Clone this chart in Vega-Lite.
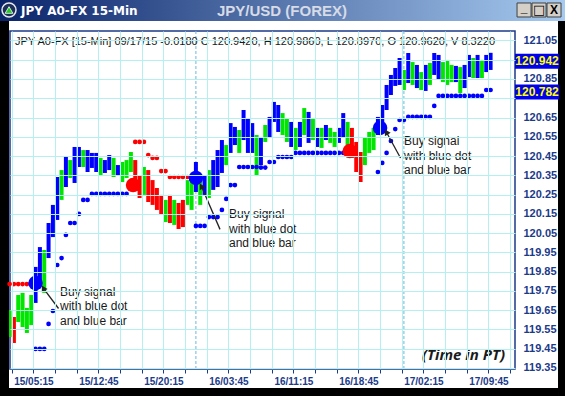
{
  "$schema": "https://vega.github.io/schema/vega-lite/v6.json",
  "width": 505,
  "height": 338,
  "autosize": {"type": "none"},
  "padding": {"left": 10, "top": 31, "right": 50, "bottom": 27},
  "background": "white",
  "config": {
    "view": {"stroke": "#1b3a8a", "strokeWidth": 1.5, "fill": "transparent"},
    "font": "Liberation Sans"
  },
  "resolve": {"axis": {"x": "independent", "y": "independent"}},
  "datasets": {
    "bars": [
      {"t":2.5,"h":119.650,"l":119.510,"s":"neutral"},
      {"t":3.0,"h":119.614,"l":119.479,"s":"down"},
      {"t":3.5,"h":119.728,"l":119.588,"s":"neutral"},
      {"t":4.0,"h":119.739,"l":119.562,"s":"neutral"},
      {"t":4.5,"h":119.661,"l":119.531,"s":"neutral"},
      {"t":5.0,"h":119.728,"l":119.572,"s":"neutral"},
      {"t":5.5,"h":119.874,"l":119.687,"s":"up"},
      {"t":6.0,"h":119.977,"l":119.790,"s":"up"},
      {"t":6.5,"h":119.962,"l":119.739,"s":"neutral"},
      {"t":7.0,"h":120.102,"l":119.920,"s":"up"},
      {"t":7.5,"h":120.196,"l":120.029,"s":"up"},
      {"t":8.0,"h":120.341,"l":120.118,"s":"up"},
      {"t":8.5,"h":120.377,"l":120.222,"s":"neutral"},
      {"t":9.0,"h":120.445,"l":120.289,"s":"up"},
      {"t":9.5,"h":120.429,"l":120.336,"s":"neutral"},
      {"t":10.0,"h":120.497,"l":120.310,"s":"up"},
      {"t":10.5,"h":120.497,"l":120.393,"s":"up"},
      {"t":11.0,"h":120.481,"l":120.393,"s":"neutral"},
      {"t":11.5,"h":120.481,"l":120.367,"s":"up"},
      {"t":12.0,"h":120.466,"l":120.388,"s":"up"},
      {"t":12.5,"h":120.466,"l":120.367,"s":"up"},
      {"t":13.0,"h":120.440,"l":120.351,"s":"neutral"},
      {"t":13.5,"h":120.429,"l":120.362,"s":"up"},
      {"t":14.0,"h":120.455,"l":120.377,"s":"up"},
      {"t":14.5,"h":120.440,"l":120.341,"s":"neutral"},
      {"t":15.0,"h":120.403,"l":120.351,"s":"up"},
      {"t":15.5,"h":120.419,"l":120.315,"s":"neutral"},
      {"t":16.0,"h":120.429,"l":120.336,"s":"neutral"},
      {"t":16.5,"h":120.471,"l":120.367,"s":"neutral"},
      {"t":17.0,"h":120.429,"l":120.274,"s":"down"},
      {"t":17.5,"h":120.351,"l":120.232,"s":"down"},
      {"t":18.0,"h":120.393,"l":120.248,"s":"neutral"},
      {"t":18.5,"h":120.377,"l":120.211,"s":"down"},
      {"t":19.0,"h":120.325,"l":120.196,"s":"down"},
      {"t":19.5,"h":120.284,"l":120.170,"s":"down"},
      {"t":20.0,"h":120.248,"l":120.144,"s":"down"},
      {"t":20.5,"h":120.222,"l":120.107,"s":"neutral"},
      {"t":21.0,"h":120.248,"l":120.102,"s":"down"},
      {"t":21.5,"h":120.222,"l":120.092,"s":"neutral"},
      {"t":22.0,"h":120.206,"l":120.071,"s":"down"},
      {"t":22.5,"h":120.222,"l":120.081,"s":"down"},
      {"t":23.0,"h":120.325,"l":120.196,"s":"neutral"},
      {"t":23.5,"h":120.315,"l":120.170,"s":"neutral"},
      {"t":24.0,"h":120.419,"l":120.263,"s":"up"},
      {"t":24.5,"h":120.336,"l":120.196,"s":"neutral"},
      {"t":25.0,"h":120.351,"l":120.248,"s":"up"},
      {"t":25.5,"h":120.377,"l":120.232,"s":"neutral"},
      {"t":26.0,"h":120.429,"l":120.274,"s":"up"},
      {"t":26.5,"h":120.481,"l":120.289,"s":"up"},
      {"t":27.0,"h":120.533,"l":120.362,"s":"up"},
      {"t":27.5,"h":120.507,"l":120.403,"s":"neutral"},
      {"t":28.0,"h":120.621,"l":120.466,"s":"up"},
      {"t":28.5,"h":120.601,"l":120.507,"s":"up"},
      {"t":29.0,"h":120.585,"l":120.466,"s":"neutral"},
      {"t":29.5,"h":120.689,"l":120.533,"s":"up"},
      {"t":30.0,"h":120.647,"l":120.466,"s":"up"},
      {"t":30.5,"h":120.621,"l":120.466,"s":"up"},
      {"t":31.0,"h":120.559,"l":120.351,"s":"neutral"},
      {"t":31.5,"h":120.549,"l":120.403,"s":"up"},
      {"t":32.0,"h":120.611,"l":120.523,"s":"neutral"},
      {"t":32.5,"h":120.653,"l":120.544,"s":"up"},
      {"t":33.0,"h":120.731,"l":120.627,"s":"up"},
      {"t":33.5,"h":120.715,"l":120.575,"s":"up"},
      {"t":34.0,"h":120.673,"l":120.559,"s":"neutral"},
      {"t":34.5,"h":120.647,"l":120.523,"s":"neutral"},
      {"t":35.0,"h":120.627,"l":120.497,"s":"up"},
      {"t":35.5,"h":120.596,"l":120.481,"s":"neutral"},
      {"t":36.0,"h":120.627,"l":120.497,"s":"up"},
      {"t":36.5,"h":120.699,"l":120.559,"s":"neutral"},
      {"t":37.0,"h":120.679,"l":120.518,"s":"up"},
      {"t":37.5,"h":120.647,"l":120.533,"s":"neutral"},
      {"t":38.0,"h":120.596,"l":120.497,"s":"up"},
      {"t":38.5,"h":120.596,"l":120.492,"s":"neutral"},
      {"t":39.0,"h":120.611,"l":120.533,"s":"up"},
      {"t":39.5,"h":120.596,"l":120.518,"s":"neutral"},
      {"t":40.0,"h":120.575,"l":120.497,"s":"neutral"},
      {"t":40.5,"h":120.596,"l":120.518,"s":"up"},
      {"t":41.0,"h":120.673,"l":120.544,"s":"up"},
      {"t":41.5,"h":120.627,"l":120.507,"s":"neutral"},
      {"t":42.0,"h":120.596,"l":120.440,"s":"down"},
      {"t":42.5,"h":120.523,"l":120.367,"s":"down"},
      {"t":43.0,"h":120.471,"l":120.315,"s":"down"},
      {"t":43.5,"h":120.544,"l":120.403,"s":"neutral"},
      {"t":44.0,"h":120.575,"l":120.466,"s":"neutral"},
      {"t":44.5,"h":120.596,"l":120.481,"s":"neutral"},
      {"t":45.0,"h":120.653,"l":120.559,"s":"up"},
      {"t":45.5,"h":120.715,"l":120.601,"s":"up"},
      {"t":46.0,"h":120.819,"l":120.689,"s":"up"},
      {"t":46.5,"h":120.871,"l":120.767,"s":"up"},
      {"t":47.0,"h":120.907,"l":120.814,"s":"up"},
      {"t":47.5,"h":120.959,"l":120.819,"s":"up"},
      {"t":48.0,"h":120.897,"l":120.793,"s":"neutral"},
      {"t":48.5,"h":120.985,"l":120.829,"s":"up"},
      {"t":49.0,"h":120.938,"l":120.819,"s":"neutral"},
      {"t":49.5,"h":120.923,"l":120.803,"s":"up"},
      {"t":50.0,"h":120.886,"l":120.793,"s":"neutral"},
      {"t":50.5,"h":120.923,"l":120.788,"s":"up"},
      {"t":51.0,"h":120.933,"l":120.819,"s":"neutral"},
      {"t":51.5,"h":120.985,"l":120.871,"s":"up"},
      {"t":52.0,"h":120.975,"l":120.845,"s":"up"},
      {"t":52.5,"h":120.938,"l":120.834,"s":"neutral"},
      {"t":53.0,"h":120.944,"l":120.819,"s":"neutral"},
      {"t":53.5,"h":120.923,"l":120.834,"s":"neutral"},
      {"t":54.0,"h":120.918,"l":120.834,"s":"up"},
      {"t":54.5,"h":120.912,"l":120.777,"s":"neutral"},
      {"t":55.0,"h":120.923,"l":120.803,"s":"up"},
      {"t":55.5,"h":120.975,"l":120.860,"s":"up"},
      {"t":56.0,"h":120.959,"l":120.855,"s":"neutral"},
      {"t":56.5,"h":120.975,"l":120.855,"s":"up"},
      {"t":57.0,"h":120.949,"l":120.855,"s":"neutral"},
      {"t":57.5,"h":120.975,"l":120.886,"s":"up"},
      {"t":58.0,"h":120.986,"l":120.897,"s":"up"}
    ],
    "stops": [
      {"t":2.5,"v":119.785,"s":"down"},{"t":3.0,"v":119.785,"s":"down"},{"t":3.5,"v":119.785,"s":"down"},
      {"t":4.0,"v":119.785,"s":"down"},{"t":4.5,"v":119.785,"s":"down"},{"t":5.0,"v":119.785,"s":"down"},
      {"t":5.5,"v":119.448,"s":"up"},{"t":6.0,"v":119.448,"s":"up"},{"t":6.5,"v":119.448,"s":"up"},
      {"t":7.0,"v":119.578,"s":"up"},{"t":7.5,"v":119.645,"s":"up"},{"t":8.0,"v":119.884,"s":"up"},
      {"t":8.5,"v":119.920,"s":"up"},{"t":9.0,"v":120.040,"s":"up"},{"t":9.5,"v":120.102,"s":"up"},
      {"t":10.0,"v":120.102,"s":"up"},{"t":10.5,"v":120.149,"s":"up"},{"t":11.0,"v":120.222,"s":"up"},
      {"t":11.5,"v":120.222,"s":"up"},{"t":12.0,"v":120.253,"s":"up"},{"t":12.5,"v":120.253,"s":"up"},
      {"t":13.0,"v":120.253,"s":"up"},{"t":13.5,"v":120.253,"s":"up"},{"t":14.0,"v":120.253,"s":"up"},
      {"t":14.5,"v":120.253,"s":"up"},{"t":15.0,"v":120.253,"s":"up"},{"t":15.5,"v":120.253,"s":"up"},
      {"t":16.0,"v":120.253,"s":"up"},
      {"t":17.0,"v":120.523,"s":"down"},{"t":17.5,"v":120.523,"s":"down"},{"t":18.0,"v":120.523,"s":"down"},
      {"t":18.5,"v":120.455,"s":"down"},{"t":19.0,"v":120.440,"s":"down"},{"t":19.5,"v":120.440,"s":"down"},
      {"t":20.0,"v":120.372,"s":"down"},{"t":20.5,"v":120.372,"s":"down"},{"t":21.0,"v":120.341,"s":"down"},
      {"t":21.5,"v":120.341,"s":"down"},{"t":22.0,"v":120.341,"s":"down"},{"t":22.5,"v":120.341,"s":"down"},
      {"t":23.0,"v":120.341,"s":"down"},
      {"t":24.0,"v":120.087,"s":"up"},{"t":24.5,"v":120.087,"s":"up"},{"t":25.0,"v":120.087,"s":"up"},
      {"t":25.5,"v":120.133,"s":"up"},{"t":26.0,"v":120.133,"s":"up"},{"t":26.5,"v":120.133,"s":"up"},
      {"t":27.0,"v":120.170,"s":"up"},{"t":27.5,"v":120.227,"s":"up"},{"t":28.0,"v":120.299,"s":"up"},
      {"t":28.5,"v":120.299,"s":"up"},{"t":29.0,"v":120.393,"s":"up"},{"t":29.5,"v":120.393,"s":"up"},
      {"t":30.0,"v":120.393,"s":"up"},{"t":30.5,"v":120.393,"s":"up"},{"t":31.0,"v":120.393,"s":"up"},
      {"t":31.5,"v":120.390,"s":"up"},{"t":32.0,"v":120.390,"s":"up"},{"t":32.5,"v":120.419,"s":"up"},
      {"t":33.0,"v":120.419,"s":"up"},{"t":33.5,"v":120.445,"s":"up"},{"t":34.0,"v":120.445,"s":"up"},
      {"t":34.5,"v":120.445,"s":"up"},{"t":35.0,"v":120.445,"s":"up"},{"t":35.5,"v":120.466,"s":"up"},
      {"t":36.0,"v":120.466,"s":"up"},{"t":36.5,"v":120.466,"s":"up"},{"t":37.0,"v":120.466,"s":"up"},
      {"t":37.5,"v":120.466,"s":"up"},{"t":38.0,"v":120.466,"s":"up"},{"t":38.5,"v":120.466,"s":"up"},
      {"t":39.0,"v":120.466,"s":"up"},{"t":39.5,"v":120.466,"s":"up"},{"t":40.0,"v":120.466,"s":"up"},
      {"t":40.5,"v":120.466,"s":"up"},{"t":41.0,"v":120.466,"s":"up"},
      {"t":45.0,"v":120.367,"s":"up"},{"t":45.5,"v":120.414,"s":"up"},{"t":46.0,"v":120.466,"s":"up"},
      {"t":46.5,"v":120.528,"s":"up"},{"t":47.0,"v":120.590,"s":"up"},{"t":47.5,"v":120.637,"s":"up"},
      {"t":48.0,"v":120.637,"s":"up"},{"t":48.5,"v":120.653,"s":"up"},{"t":49.0,"v":120.653,"s":"up"},
      {"t":49.5,"v":120.653,"s":"up"},{"t":50.0,"v":120.653,"s":"up"},{"t":50.5,"v":120.653,"s":"up"},
      {"t":51.0,"v":120.653,"s":"up"},{"t":51.5,"v":120.710,"s":"up"},{"t":52.0,"v":120.762,"s":"up"},
      {"t":52.5,"v":120.762,"s":"up"},{"t":53.0,"v":120.762,"s":"up"},{"t":53.5,"v":120.762,"s":"up"},
      {"t":54.0,"v":120.762,"s":"up"},{"t":54.5,"v":120.762,"s":"up"},{"t":55.0,"v":120.762,"s":"up"},
      {"t":55.5,"v":120.762,"s":"up"},{"t":56.0,"v":120.762,"s":"up"},{"t":56.5,"v":120.762,"s":"up"},
      {"t":57.0,"v":120.762,"s":"up"},{"t":57.5,"v":120.793,"s":"up"},{"t":58.0,"v":120.793,"s":"up"}
    ],
    "signals": [
      {"t":5.5,"v":119.790,"s":"up"},
      {"t":16.75,"v":120.299,"s":"down"},
      {"t":24.0,"v":120.336,"s":"up"},
      {"t":41.75,"v":120.476,"s":"down"},
      {"t":45.25,"v":120.596,"s":"up"}
    ],
    "notes": [
      {"t":8.32,"v":119.723,"tail_t":8.15,"tail_v":119.658,"tip_t":6.39,"tip_v":119.764,"text":"Buy signal\nwith blue dot\nand blue bar"},
      {"t":27.82,"v":120.1265,"tail_t":26.78,"tail_v":120.069,"tip_t":24.62,"tip_v":120.294,"text":"Buy signal\nwith blue dot\nand blue bar"},
      {"t":48.01,"v":120.5057,"tail_t":47.61,"tail_v":120.440,"tip_t":45.97,"tip_v":120.575,"text":"Buy signal\nwith blue dot\nand blue bar"}
    ],
    "lastvals": [
      {"v":120.942,"label":"120.942"},
      {"v":120.782,"label":"120.782"}
    ],
    "days": [{"t":24},{"t":48}]
  },
  "layer": [
    {
      "data": {"name": "days"},
      "mark": {"type": "rule", "color": "#6fb7d8", "strokeWidth": 1, "strokeDash": [3, 2]},
      "encoding": {"x": {"field": "t", "type": "quantitative", "axis": null}}
    },
    {
      "data": {"name": "bars"},
      "mark": {"type": "rule", "strokeWidth": 4, "strokeCap": "butt"},
      "encoding": {
        "x": {
          "field": "t", "type": "quantitative",
          "scale": {"domain": [2.55, 60.817], "nice": false, "zero": false},
          "axis": {
            "title": null,
            "orient": "bottom",
            "values": [2.75, 5.25, 7.75, 10.25, 12.75, 15.25, 17.75, 20.25, 22.75, 25.25, 27.75, 30.25, 32.75, 35.25, 37.75, 40.25, 42.75, 45.25, 47.75, 50.25, 52.75, 55.25, 57.75, 60.25],
            "labelExpr": "abs((datum.value - 5.25) % 7.5) < 0.01 ? (15 + floor(datum.value / 24)) + '/' + pad('' + floor(datum.value % 24), 2, '0', 'left') + ':' + pad('' + round((datum.value % 1) * 60), 2, '0', 'left') : ''",
            "domain": false,
            "tickSize": 4,
            "tickColor": "#1b3a8a",
            "tickWidth": 1,
            "labelFont": "Liberation Sans",
            "labelFontSize": 10,
            "labelFontWeight": "bold",
            "labelColor": "#1b3a8a",
            "labelPadding": 3,
            "labelOverlap": false,
            "labelFlush": false,
            "grid": true,
            "gridColor": "#b4f0f0",
            "gridOpacity": 1,
            "gridWidth": 1,
            "zindex": 1
          }
        },
        "y": {
          "field": "l", "type": "quantitative",
          "scale": {"domain": [119.3438, 121.0993], "nice": false, "zero": false},
          "axis": {
            "title": null,
            "orient": "right",
            "values": [119.35, 119.45, 119.55, 119.65, 119.75, 119.85, 119.95, 120.05, 120.15, 120.25, 120.35, 120.45, 120.55, 120.65, 120.75, 120.85, 120.95, 121.05],
            "labelExpr": "(abs(datum.value - 120.95) < 0.001 || abs(datum.value - 120.75) < 0.001) ? '' : format(datum.value, '.2f')",
            "domain": false,
            "ticks": false,
            "labelPadding": 8,
            "labelFont": "Liberation Sans",
            "labelFontSize": 11,
            "labelFontWeight": "bold",
            "labelColor": "#1b3a8a",
            "labelOverlap": false,
            "labelFlush": false,
            "grid": true,
            "gridColor": "#b4f0f0",
            "gridOpacity": 1,
            "gridWidth": 1,
            "zindex": 1
          }
        },
        "y2": {"field": "h"},
        "color": {"field": "s", "type": "nominal", "scale": {"domain": ["up", "neutral", "down"], "range": ["#0000ff", "#00e600", "#ff0000"]}, "legend": null}
      }
    },
    {
      "data": {"values": [{}]},
      "mark": {"type": "rect", "fill": {"gradient": "linear", "x1": 0, "y1": 0, "x2": 1, "y2": 0, "stops": [{"offset": 0, "color": "#0a246a"}, {"offset": 1, "color": "#a6caf0"}]}},
      "encoding": {"x": {"datum": 1.396, "axis": null}, "x2": {"datum": 66.59}, "y": {"datum": 121.2603, "axis": null}, "y2": {"datum": 121.1512}}
    },
    {
      "data": {"values": [{}]},
      "mark": {"type": "rect", "fill": "black"},
      "encoding": {"x": {"datum": 1.396, "axis": null}, "x2": {"datum": 2.435}, "y": {"datum": 121.1512, "axis": null}, "y2": {"datum": 119.2036}}
    },
    {
      "data": {"values": [{}]},
      "mark": {"type": "rect", "fill": "black"},
      "encoding": {"x": {"datum": 65.78, "axis": null}, "x2": {"datum": 66.59}, "y": {"datum": 121.1512, "axis": null}, "y2": {"datum": 119.2036}}
    },
    {
      "data": {"values": [{}]},
      "mark": {"type": "rect", "fill": "black"},
      "encoding": {"x": {"datum": 2.435, "axis": null}, "x2": {"datum": 65.78}, "y": {"datum": 119.2451, "axis": null}, "y2": {"datum": 119.2036}}
    },
    {
      "data": {"values": [{"label": "JPY A0-FX 15-Min"}]},
      "mark": {"type": "text", "align": "left", "baseline": "middle", "color": "white", "fontWeight": "bold", "fontSize": 12, "font": "DejaVu Sans"},
      "encoding": {"x": {"datum": 3.819, "axis": null}, "y": {"datum": 121.2032, "axis": null}, "text": {"field": "label"}}
    },
    {
      "data": {"values": [{"label": "JPY/USD (FOREX)"}]},
      "mark": {"type": "text", "align": "center", "baseline": "middle", "color": "#d6dbe6", "fontWeight": "bold", "fontSize": 15, "font": "Liberation Sans"},
      "encoding": {"x": {"datum": 33.93, "axis": null}, "y": {"datum": 121.2032, "axis": null}, "text": {"field": "label"}}
    },
    {
      "data": {"values": [{}]},
      "mark": {"type": "point", "shape": "circle", "filled": true, "size": 196, "fill": "#1c2f5a", "stroke": "#e8e8e8", "strokeWidth": 1.5, "opacity": 1},
      "encoding": {"x": {"datum": 2.435, "axis": null}, "y": {"datum": 121.2084, "axis": null}}
    },
    {
      "data": {"values": [{}]},
      "mark": {"type": "point", "shape": "triangle-up", "filled": true, "size": 60, "fill": "#22cc22", "stroke": "white", "strokeWidth": 0.8, "opacity": 1},
      "encoding": {"x": {"datum": 2.435, "axis": null}, "y": {"datum": 121.2084, "axis": null}}
    },
    {
      "data": {"values": [{}]},
      "mark": {"type": "point", "shape": "square", "filled": true, "size": 196, "fill": "#d4d0c8", "stroke": "#404040", "strokeWidth": 1, "opacity": 1},
      "encoding": {"x": {"datum": 61.86, "axis": null}, "y": {"datum": 121.2084, "axis": null}}
    },
    {
      "data": {"values": [{}]},
      "mark": {"type": "point", "shape": "square", "filled": true, "size": 196, "fill": "#d4d0c8", "stroke": "#404040", "strokeWidth": 1, "opacity": 1},
      "encoding": {"x": {"datum": 63.59, "axis": null}, "y": {"datum": 121.2084, "axis": null}}
    },
    {
      "data": {"values": [{}]},
      "mark": {"type": "point", "shape": "square", "filled": true, "size": 196, "fill": "#d4d0c8", "stroke": "#404040", "strokeWidth": 1, "opacity": 1},
      "encoding": {"x": {"datum": 65.32, "axis": null}, "y": {"datum": 121.2084, "axis": null}}
    },
    {
      "data": {"values": [{"g": "_"}]},
      "mark": {"type": "text", "fontWeight": "bold", "fontSize": 12, "color": "black", "baseline": "middle", "dy": -2},
      "encoding": {"x": {"datum": 61.86, "axis": null}, "y": {"datum": 121.2084, "axis": null}, "text": {"field": "g"}}
    },
    {
      "data": {"values": [{"g": "□"}]},
      "mark": {"type": "text", "fontWeight": "bold", "fontSize": 13, "font": "DejaVu Sans", "color": "black", "baseline": "middle"},
      "encoding": {"x": {"datum": 63.59, "axis": null}, "y": {"datum": 121.2084, "axis": null}, "text": {"field": "g"}}
    },
    {
      "data": {"values": [{"g": "X"}]},
      "mark": {"type": "text", "fontWeight": "bold", "fontSize": 12, "color": "black", "baseline": "middle"},
      "encoding": {"x": {"datum": 65.32, "axis": null}, "y": {"datum": 121.2084, "axis": null}, "text": {"field": "g"}}
    },
    {
      "data": {"name": "stops"},
      "mark": {"type": "point", "shape": "circle", "filled": true, "size": 22, "opacity": 1},
      "encoding": {
        "x": {"field": "t", "type": "quantitative", "axis": null},
        "y": {"field": "v", "type": "quantitative", "axis": null},
        "color": {"field": "s", "type": "nominal", "scale": {"domain": ["up", "neutral", "down"], "range": ["#0000ff", "#00e600", "#ff0000"]}, "legend": null}
      }
    },
    {
      "data": {"name": "signals"},
      "mark": {"type": "point", "shape": "circle", "filled": true, "size": 210, "opacity": 1},
      "encoding": {
        "x": {"field": "t", "type": "quantitative", "axis": null},
        "y": {"field": "v", "type": "quantitative", "axis": null},
        "color": {"field": "s", "type": "nominal", "scale": {"domain": ["up", "neutral", "down"], "range": ["#0000ff", "#00e600", "#ff0000"]}, "legend": null}
      }
    },
    {
      "data": {"name": "notes"},
      "mark": {"type": "rule", "color": "#222222", "strokeWidth": 1.3},
      "encoding": {
        "x": {"field": "tail_t", "type": "quantitative", "axis": null},
        "y": {"field": "tail_v", "type": "quantitative", "axis": null},
        "x2": {"field": "tip_t"},
        "y2": {"field": "tip_v"}
      }
    },
    {
      "data": {"name": "notes"},
      "mark": {"type": "point", "shape": "triangle-up", "filled": true, "size": 45, "angle": -30, "color": "#222222", "opacity": 1},
      "encoding": {
        "x": {"field": "tip_t", "type": "quantitative", "axis": null},
        "y": {"field": "tip_v", "type": "quantitative", "axis": null}
      }
    },
    {
      "data": {"name": "notes"},
      "mark": {"type": "text", "align": "left", "baseline": "alphabetic", "lineBreak": "\n", "lineHeight": 14.5, "fontSize": 12, "font": "Liberation Sans", "color": "#1a1a1a"},
      "encoding": {
        "x": {"field": "t", "type": "quantitative", "axis": null},
        "y": {"field": "v", "type": "quantitative", "axis": null},
        "text": {"field": "text"}
      }
    },
    {
      "data": {"values": [{"label": "JPY A0-FX [15-Min] 09/17/15  -0.0180 C 120.9420, H 120.9860, L 120.8970, O 120.9620, V 8.3220"}]},
      "mark": {"type": "text", "align": "left", "baseline": "alphabetic", "fontSize": 11, "font": "Liberation Sans", "color": "#1a1a1a", "clip": true},
      "encoding": {"x": {"datum": 3.127, "axis": null}, "y": {"datum": 121.025, "axis": null}, "text": {"field": "label"}}
    },
    {
      "data": {"values": [{"label": "(Time in PT)"}]},
      "mark": {"type": "text", "align": "right", "baseline": "alphabetic", "fontSize": 15, "font": "Open Sans", "fontWeight": "bold", "fontStyle": "italic", "color": "#1a1a1a"},
      "encoding": {"x": {"datum": 59.66, "axis": null}, "y": {"datum": 119.3906, "axis": null}, "text": {"field": "label"}}
    },
    {
      "data": {"name": "lastvals"},
      "mark": {"type": "point", "shape": "M-1,-0.34H1V0.34H-1Z", "filled": true, "size": 1936, "fill": "#0000f0", "opacity": 1},
      "encoding": {"x": {"datum": 63.36, "axis": null}, "y": {"field": "v", "type": "quantitative", "axis": null}}
    },
    {
      "data": {"name": "lastvals"},
      "mark": {"type": "text", "align": "center", "baseline": "middle", "fontSize": 12, "fontWeight": "bold", "font": "Liberation Sans", "color": "#ffff00"},
      "encoding": {"x": {"datum": 63.36, "axis": null}, "y": {"field": "v", "type": "quantitative", "axis": null}, "text": {"field": "label"}}
    }
  ]
}
